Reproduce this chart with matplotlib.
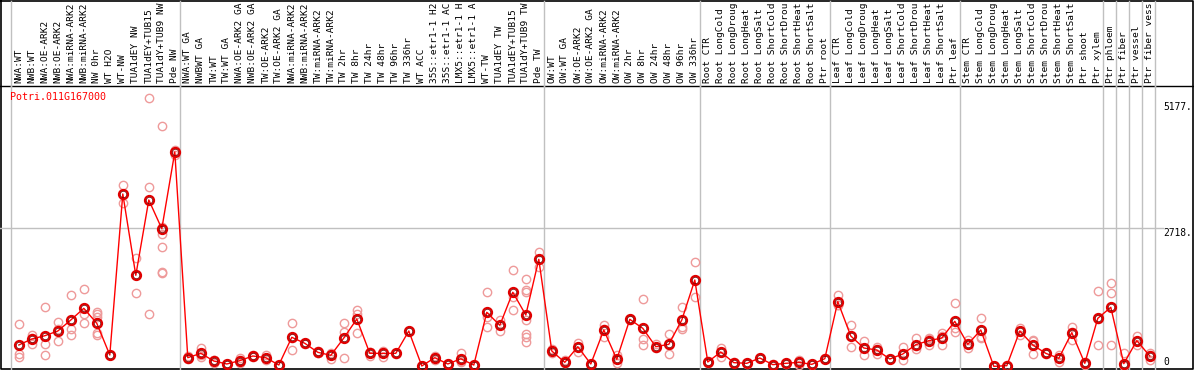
import matplotlib
matplotlib.use("Agg")
import matplotlib.pyplot as plt

# === Daten ===
labels_nw = ["NWA:WT", "NWB:WT", "NWA:OE-ARK2", "NWB:OE-ARK2", "NWA:miRNA-ARK2", "NWB:miRNA-ARK2",
             "NW 0hr", "WT H2O", "WT-NW", "TUA1dEY NW", "TUA1dEY+TUB15", "TUA1dY+TUB9 NW", "Pde NW"]
labels_tw = ["NWA:WT GA", "NWBWT GA", "TW:WT", "TW:WT GA", "NWA:OE-ARK2 GA", "NWB:OE-ARK2 GA",
             "TW:OE-ARK2", "TW:OE-ARK2 GA", "NWA:miRNA-ARK2", "NWB:miRNA-ARK2", "TW:miRNA-ARK2",
             "TW:miRNA-ARK2", "TW 2hr", "TW 8hr", "TW 24hr", "TW 48hr", "TW 96hr", "TW 336hr", "WT ACC",
             "35S::etr1-1 H2", "35S::etr1-1 AC", "LMX5::etr1-1 H", "LMX5::etr1-1 A", "WT-TW",
             "TUA1dEY TW", "TUA1dEY+TUB15", "TUA1dY+TUB9 TW", "Pde TW"]
labels_ow = ["OW:WT", "OW:WT GA", "OW:OE-ARK2", "OW:OE-ARK2 GA", "OW:miRNA-ARK2", "OW:miRNA-ARK2",
             "OW 2hr", "OW 8hr", "OW 24hr", "OW 48hr", "OW 96hr", "OW 336hr"]
labels_root = ["Root CTR", "Root LongCold", "Root LongDroug", "Root LongHeat", "Root LongSalt",
               "Root ShortCold", "Root ShortDrou", "Root ShortHeat", "Root ShortSalt", "Ptr root"]
labels_leaf = ["Leaf CTR", "Leaf LongCold", "Leaf LongDroug", "Leaf LongHeat", "Leaf LongSalt",
               "Leaf ShortCold", "Leaf ShortDrou", "Leaf ShortHeat", "Leaf ShortSalt", "Ptr leaf"]
labels_stem = ["Stem CTR", "Stem LongCold", "Stem LongDroug", "Stem LongHeat", "Stem LongSalt",
               "Stem ShortCold", "Stem ShortDrou", "Stem ShortHeat", "Stem ShortSalt", "Ptr shoot", "Ptr xylem"]
labels_ptr = ["Ptr phloem", "Ptr fiber", "Ptr vessel", "Ptr fiber vess"]

labels = labels_nw + labels_tw + labels_ow + labels_root + labels_leaf + labels_stem + labels_ptr

# Gruppengrenzen (Index der ersten Probe jeder Gruppe)
group_starts = [0, 13, 41, 53, 63, 73, 84, 85, 86, 87, 88]

gene = "Potri.011G167000"
tick_values = [5177, 2718, 0]

means = [430, 547, 611, 703, 918, 1146, 853, 234, 3379, 1791, 3262, 2701, 4199,
         182, 267, 117, 59, 124, 215, 182, 39, 580, 463, 287, 228, 566, 937, 267, 267, 267, 703,
         20, 182, 59, 160, 39, 1068, 814, 1459, 1016, 2103,
         312, 91, 397, 59, 723, 150, 931, 755, 397, 443, 918, 1699,
         98, 293, 85, 72, 176, 46, 72, 91, 52, 163,
         1276, 605, 371, 332, 156, 254, 436, 514, 566, 892,
         443, 723, 13, 26, 703, 430, 267, 169, 670, 72, 951,
         1166, 65, 514, 215]

replicates = [
    [834, 248, 201], [625, 449, 567], [1166, 443, 228], [873, 502, 734], [1406, 742, 619],
    [1529, 1029, 859], [1074, 1030, 982, 658, 620], [225, 234, 243], [3549, 3203, 3385],
    [2135, 1445, 1793], [5254, 3510, 1035], [4707, 2740, 2597, 2337, 1861, 1842], [4219, 4135, 4243],
    [215, 150, 180], [365, 202, 235], [137, 85, 130], [50, 65, 62], [169, 72, 130],
    [235, 189, 220], [235, 137, 175], [30, 45, 42], [853, 326, 560], [450, 470, 469],
    [313, 267, 281], [280, 150, 254], [859, 677, 169], [1113, 1029, 658], [293, 215, 293],
    [306, 202, 293], [267, 260, 274], [703, 695, 711], [15, 20, 25], [215, 137, 194],
    [59, 55, 63], [280, 104, 123], [39, 30, 48], [1459, 982, 787], [918, 709, 815],
    [1894, 1373, 1113], [1712, 1504, 1459, 918, 644, 579, 495], [2246, 1959, 2103],
    [345, 267, 312], [137, 72, 91], [469, 293, 397], [59, 50, 68], [827, 592, 750],
    [235, 85, 150], [931, 920, 942], [1322, 541, 423], [443, 365, 383], [644, 248, 437],
    [1166, 775, 749], [2045, 1361, 1691],
    [110, 85, 100], [365, 202, 293], [85, 80, 90], [72, 65, 78], [176, 170, 182],
    [46, 40, 52], [72, 66, 78], [137, 39, 91], [52, 48, 56], [163, 158, 168],
    [1406, 1211, 1211], [820, 384, 605], [508, 234, 371], [397, 254, 345], [156, 150, 162],
    [384, 137, 254], [560, 345, 404], [560, 430, 550], [670, 430, 600], [1244, 755, 677],
    [527, 365, 443], [951, 592, 560], [13, 10, 18], [26, 20, 32], [755, 625, 703],
    [514, 248, 527], [267, 280, 254], [104, 235, 169], [787, 690, 527], [104, 40, 72],
    [1490, 430, 933],
    [1647, 1439, 423], [280, 20, 65], [605, 430, 514], [267, 137, 241],
]

# === Layout (Pixel) ===
W, H = 1194, 370
RED = "#E00000"
REP = "#EE9A9A"
GRID = "#C0C0C0"
MONO = "DejaVu Sans Mono"


def frac(x0, y0, x1, y1):
    return [x0 / W, 1 - y1 / H, (x1 - x0) / W, (y1 - y0) / H]


fig = plt.figure(figsize=(W / 100, H / 100), dpi=100)

# Rahmen
ax_bg = fig.add_axes([0, 0, 1, 1], zorder=-1)
ax_bg.set_xlim(0, W)
ax_bg.set_ylim(H, 0)
ax_bg.axis("off")
ax_bg.plot([0.7, W - 0.7, W - 0.7, 0.7, 0.7], [0.7, 0.7, 369, 369, 0.7], color="black", lw=1.2)
ax_bg.plot([0, W], [86, 86], color="black", lw=1)

xmin, xmax = -0.6, len(labels) - 0.6

# Beschriftungsbereich
ax_lab = fig.add_axes(frac(11, 1, 1155, 86))
ax_lab.set_xlim(xmin, xmax)
ax_lab.set_ylim(0, 85)
ax_lab.axis("off")
for i, lab in enumerate(labels):
    ax_lab.text(i, 3, lab, rotation=90, ha="center", va="bottom", fontsize=6.8,
                family=MONO, clip_on=True)

# Diagrammbereich
ax = fig.add_axes(frac(11, 86, 1155, 369))
ax.set_xlim(xmin, xmax)
ax.set_ylim(-39, 5488)
ax.axis("off")

for k in group_starts:
    ax.axvline(k - 0.6, color=GRID, lw=1, clip_on=False, zorder=0)
    ax_lab.axvline(k - 0.6, color=GRID, lw=1, clip_on=False, zorder=0)

ax.axhline(2718, xmin=-11 / 1144, xmax=1152 / 1144, color=GRID, lw=1, clip_on=False, zorder=0)

rx, ry = [], []
for i, reps in enumerate(replicates):
    rx += [i] * len(reps)
    ry += reps
ax.plot(rx, ry, "o", ms=6.0, mfc="none", mec=REP, mew=1.0, clip_on=False, zorder=2)

x = list(range(len(means)))
ax.plot(x, means, color="red", lw=1.0, clip_on=False, zorder=3)
ax.plot(x, means, "o", ms=6.5, mfc="none", mec=RED, mew=1.6, clip_on=False, zorder=4)
ax.plot(x, means, "o", ms=4.6, mfc="none", mec="#700000", mew=0.5, clip_on=False, zorder=5)

ax.text(-0.001, 0.961, gene, transform=ax.transAxes, color="red", fontsize=7.2,
        family=MONO, ha="left", va="center")

ytr = ax.get_yaxis_transform()
for v in tick_values:
    ax.text(1.0075, v, f"{v}." if v else "0", transform=ytr, fontsize=6.9, family=MONO,
            ha="left", va="bottom" if v == 0 else "top")

fig.savefig("out.png", dpi=100)
